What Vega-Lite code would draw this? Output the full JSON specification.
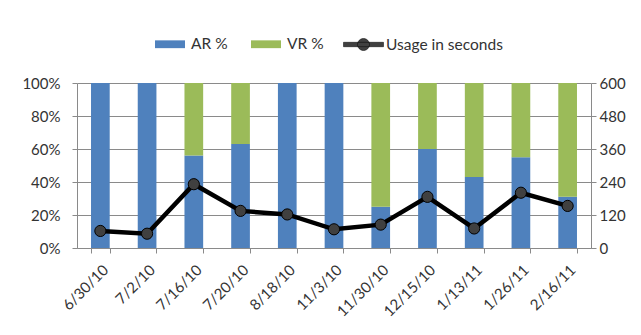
{
  "$schema": "https://vega.github.io/schema/vega-lite/v6.json",
  "width": 514,
  "height": 165,
  "autosize": "none",
  "padding": {"left": 77, "top": 83, "right": 50, "bottom": 87},
  "background": "white",
  "config": {
    "font": "Lato",
    "view": {"stroke": null},
    "axis": {
      "labelFont": "Lato",
      "labelFontSize": 15,
      "labelColor": "#333333",
      "domainColor": "#8a8a8a",
      "tickColor": "#8a8a8a",
      "gridColor": "#8a8a8a",
      "title": null
    },
    "legend": {
      "labelFont": "Lato",
      "labelFontSize": 15.5,
      "labelColor": "#333333",
      "title": null
    }
  },
  "datasets": {
    "share": [
      {"date": "6/30/10", "series": "AR %", "value": 1.0},
      {"date": "6/30/10", "series": "VR %", "value": 0.0},
      {"date": "7/2/10", "series": "AR %", "value": 1.0},
      {"date": "7/2/10", "series": "VR %", "value": 0.0},
      {"date": "7/16/10", "series": "AR %", "value": 0.56},
      {"date": "7/16/10", "series": "VR %", "value": 0.44},
      {"date": "7/20/10", "series": "AR %", "value": 0.63},
      {"date": "7/20/10", "series": "VR %", "value": 0.37},
      {"date": "8/18/10", "series": "AR %", "value": 1.0},
      {"date": "8/18/10", "series": "VR %", "value": 0.0},
      {"date": "11/3/10", "series": "AR %", "value": 1.0},
      {"date": "11/3/10", "series": "VR %", "value": 0.0},
      {"date": "11/30/10", "series": "AR %", "value": 0.25},
      {"date": "11/30/10", "series": "VR %", "value": 0.75},
      {"date": "12/15/10", "series": "AR %", "value": 0.6},
      {"date": "12/15/10", "series": "VR %", "value": 0.4},
      {"date": "1/13/11", "series": "AR %", "value": 0.43},
      {"date": "1/13/11", "series": "VR %", "value": 0.57},
      {"date": "1/26/11", "series": "AR %", "value": 0.55},
      {"date": "1/26/11", "series": "VR %", "value": 0.45},
      {"date": "2/16/11", "series": "AR %", "value": 0.31},
      {"date": "2/16/11", "series": "VR %", "value": 0.69}
    ],
    "usage": [
      {"date": "6/30/10", "seconds": 62},
      {"date": "7/2/10", "seconds": 52},
      {"date": "7/16/10", "seconds": 232},
      {"date": "7/20/10", "seconds": 135},
      {"date": "8/18/10", "seconds": 122},
      {"date": "11/3/10", "seconds": 68},
      {"date": "11/30/10", "seconds": 85},
      {"date": "12/15/10", "seconds": 186},
      {"date": "1/13/11", "seconds": 71},
      {"date": "1/26/11", "seconds": 201},
      {"date": "2/16/11", "seconds": 153}
    ]
  },
  "encoding": {
    "x": {
      "field": "date",
      "type": "nominal",
      "sort": null,
      "scale": {"paddingInner": 0.6, "paddingOuter": 0.3},
      "axis": {
        "labelAngle": -45,
        "tickBand": "extent",
        "tickSize": 5,
        "labelPadding": 9,
        "domainColor": "#8a8a8a"
      }
    }
  },
  "layer": [
    {
      "data": {"name": "share"},
      "mark": {"type": "bar"},
      "encoding": {
        "y": {
          "field": "value",
          "type": "quantitative",
          "stack": "zero",
          "scale": {"domain": [0, 1]},
          "axis": {
            "orient": "left",
            "format": ".0%",
            "values": [0, 0.2, 0.4, 0.6, 0.8, 1],
            "grid": true,
            "tickSize": 5,
            "labelPadding": 12
          }
        },
        "color": {
          "field": "series",
          "type": "nominal",
          "scale": {"domain": ["AR %", "VR %"], "range": ["#4f81bd", "#9bbb59"]},
          "legend": {
            "orient": "none",
            "direction": "horizontal",
            "legendX": 78,
            "legendY": -54,
            "symbolType": "M-1,-0.26H1V0.26H-1Z",
            "symbolSize": 900,
            "symbolStrokeWidth": 0,
            "labelOffset": 6,
            "columnPadding": 23
          }
        },
        "order": {"field": "series", "sort": "ascending"}
      }
    },
    {
      "data": {"name": "usage"},
      "encoding": {
        "y": {
          "field": "seconds",
          "type": "quantitative",
          "scale": {"domain": [0, 600]},
          "axis": {
            "orient": "right",
            "values": [0, 120, 240, 360, 480, 600],
            "grid": false,
            "tickSize": 5,
            "labelPadding": 3
          }
        }
      },
      "layer": [
        {
          "mark": {"type": "line", "color": "black", "strokeWidth": 4.5}
        },
        {
          "mark": {"type": "point", "filled": true, "fill": "#404040", "strokeWidth": 1, "size": 125, "opacity": 1},
          "encoding": {
            "stroke": {
              "datum": "Usage in seconds",
              "scale": {"range": ["black"]},
              "legend": {
                "orient": "none",
                "legendX": 266,
                "legendY": -59,
                "symbolType": "M-1,-0.11H1V0.11H-1Z M0.3,0A0.3,0.3 0 1 1 -0.3,0A0.3,0.3 0 1 1 0.3,0Z",
                "symbolSize": 1600,
                "symbolFillColor": "black",
                "symbolStrokeColor": "black",
                "symbolStrokeWidth": 0.5,
                "labelOffset": 2
              }
            }
          }
        }
      ]
    }
  ],
  "resolve": {"scale": {"y": "independent"}}
}
